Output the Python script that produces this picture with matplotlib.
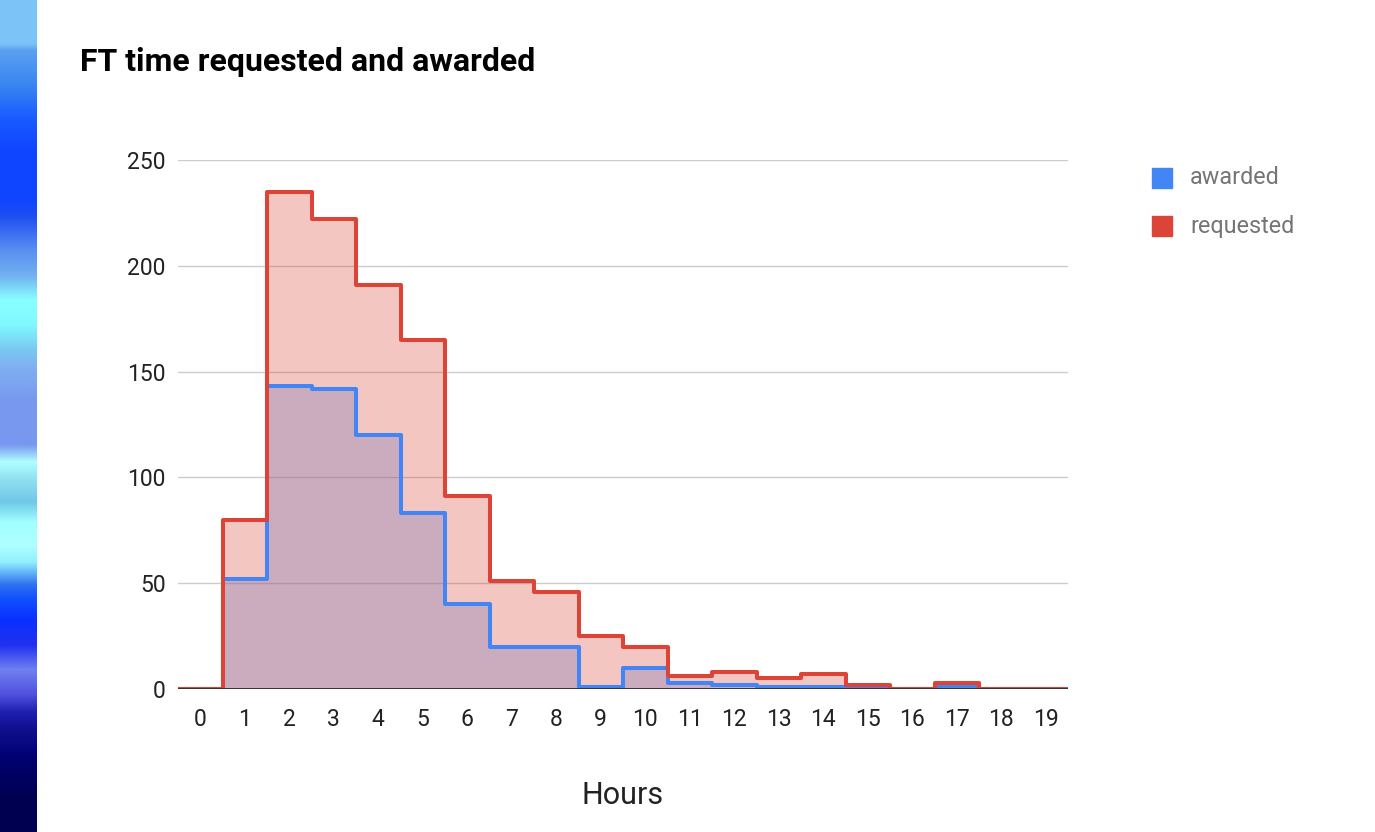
import numpy as np
import matplotlib
matplotlib.use('Agg')
import matplotlib.pyplot as plt
from matplotlib.colors import LinearSegmentedColormap

plt.rcParams['font.family'] = ['Roboto', 'DejaVu Sans']

# hours requested / awarded per bin
hours = list(range(20))
requested = [0, 80, 235, 222, 191, 165, 91, 51, 46, 25, 20, 6, 8, 5, 7, 2, 0, 3, 0, 0]
awarded = [0, 52, 143, 142, 120, 83, 40, 20, 20, 1, 10, 3, 2, 1, 1, 1, 0, 1, 0, 0]

red = '#db4437'
blue = '#4285f4'

fig = plt.figure(figsize=(13.75, 8.32), dpi=100)

# decorative strip on the left edge (pixel row, colour)
strip_rows = [0, 43, 50, 83, 117, 150, 200, 217, 250, 275, 300, 325, 350, 367, 400, 445,
              462, 479, 502, 522, 545, 562, 585, 599, 620, 645, 670, 695, 712, 729, 760, 800, 832]
strip_hex = ['#7cc4f8', '#7cc4f8', '#5aa0f0', '#3a88f0', '#1a5cff', '#0f45ff', '#0f45ff',
             '#2050f0', '#5a8ff0', '#70b0f0', '#88ffff', '#80f8ff', '#78c8f0', '#80b0f0',
             '#7898f0', '#7898f0', '#b0ffff', '#90e0f0', '#70c8e8', '#a0ffff', '#b0ffff',
             '#90f0ff', '#3070f0', '#1050ff', '#0a30ff', '#2030f0', '#7080f0', '#5050e0',
             '#2020b0', '#101090', '#000070', '#000050', '#000050']
cmap = LinearSegmentedColormap.from_list(
    'strip', [(r / 832, c) for r, c in zip(strip_rows, strip_hex)], N=832)
sax = fig.add_axes([0, 0, 37 / 1375, 1])
sax.imshow(np.linspace(0, 1, 832).reshape(-1, 1), cmap=cmap, aspect='auto',
           interpolation='bilinear')
sax.axis('off')

ax = fig.add_axes([178 / 1375, 1 - 689 / 832, 890 / 1375, 529 / 832])
edges = np.arange(len(hours) + 1) - 0.5

# fills first (red over blue), then outlines on top
ax.stairs(awarded, edges, fill=True, color=blue, alpha=0.3, lw=0, zorder=2)
ax.stairs(requested, edges, fill=True, color=red, alpha=0.3, lw=0, zorder=3)
ax.stairs(awarded, edges, baseline=None, color=blue, lw=2.9, zorder=5,
          joinstyle='round', capstyle='round')
ax.stairs(requested, edges, baseline=None, color=red, lw=2.9, zorder=6,
          joinstyle='round', capstyle='round')
ax.axhline(0, color='#333333', lw=1.4, zorder=7)

ax.set_xlim(-0.5, len(hours) - 0.5)
ax.set_ylim(0, 250)
ax.set_yticks([0, 50, 100, 150, 200, 250])
ax.set_xticks(hours)
ax.grid(axis='y', color='#cccccc', lw=1, zorder=1)
for s in ax.spines.values():
    s.set_visible(False)
ax.tick_params(length=0, labelsize=16.5, labelcolor='#222222')
ax.tick_params(axis='y', pad=9)
ax.tick_params(axis='x', pad=14)
ax.set_xlabel('Hours', fontsize=22, color='#222222', labelpad=36)

fig.text(80 / 1375, 1 - 62 / 832, 'FT time requested and awarded', fontsize=23,
         fontweight='bold', color='#000000', va='center', ha='left')

# legend
for i, (name, c) in enumerate([('awarded', blue), ('requested', red)]):
    yc = 178 + 48 * i
    fig.patches.append(plt.Rectangle((1152 / 1375, 1 - (yc + 10) / 832), 20 / 1375, 20 / 832,
                                     transform=fig.transFigure, color=c, figure=fig))
    fig.text(1190 / 1375, 1 - yc / 832, name, fontsize=16.8, color='#757575', va='center')

fig.savefig('out.png', dpi=100)
